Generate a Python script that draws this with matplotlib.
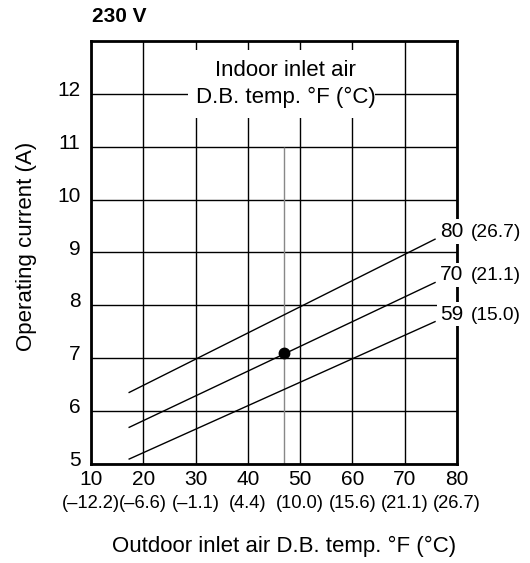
import matplotlib
matplotlib.use('Agg')
import matplotlib.pyplot as plt
from matplotlib.patches import Rectangle
from matplotlib.transforms import ScaledTranslation

plt.rcParams['font.family'] = ['Liberation Sans', 'DejaVu Sans']

# outdoor inlet air temperature ticks (°F) with the °C equivalents
outdoor_f = [10, 20, 30, 40, 50, 60, 70, 80]
outdoor_c = ['(–12.2)', '(–6.6)', '(–1.1)', '(4.4)', '(10.0)', '(15.6)', '(21.1)', '(26.7)']
current_ticks = [5, 6, 7, 8, 9, 10, 11, 12]

# indoor D.B. temp lines, start and end (outdoor °F -> current A)
line_x = [17.3, 75.8]
line_80 = [6.35, 9.25]
line_70 = [5.69, 8.43]
line_59 = [5.09, 7.69]
indoor_f = ['80', '70', '59']
indoor_c = ['(26.7)', '(21.1)', '(15.0)']

# rating point and its reference line
point_x = 47
point_y = 7.1
ref_top = 11

fig = plt.figure(figsize=(5.3, 5.63), dpi=100)
ax = fig.add_axes([91 / 530, 1 - 463.8 / 563, 366 / 530, (463.8 - 41) / 563])

ax.set_xlim(10, 80)
ax.set_ylim(5, 13)
ax.set_xticks(outdoor_f)
ax.set_yticks(current_ticks)
ax.grid(True, color='black', linewidth=1.0)
ax.tick_params(length=0, labelsize=15)
ax.tick_params(axis='x', pad=4.5)
ax.tick_params(axis='y', pad=7.5)
for s in ax.spines.values():
    s.set_linewidth(2.0)

# y labels sit a bit above their gridlines
shift = ScaledTranslation(0, 0.053, fig.dpi_scale_trans)
for lab in ax.get_yticklabels():
    lab.set_transform(lab.get_transform() + shift)

# celsius labels under the fahrenheit ones
for f, c in zip(outdoor_f, outdoor_c):
    ax.annotate(c, xy=(f, 0), xycoords=('data', 'axes fraction'),
                xytext=(0, -28.4), textcoords='offset points',
                ha='center', va='center', fontsize=13.2, annotation_clip=False)

# grey reference line and rating point
ax.vlines(point_x, 5, ref_top, color='#888888', linewidth=1.0, zorder=2)
ax.plot(point_x, point_y, 'o', color='black', markersize=7.5, zorder=5)

# the three indoor temperature lines with labels
for ys, lf, lc in zip([line_80, line_70, line_59], indoor_f, indoor_c):
    ax.plot(line_x, ys, color='black', linewidth=1.0, zorder=3)
    ax.annotate(lf, xy=(line_x[-1], ys[-1]), xytext=(3.6, 1.5), textcoords='offset points',
                ha='left', va='baseline', fontsize=15, zorder=6,
                bbox=dict(facecolor='white', edgecolor='none', pad=2))
    ax.annotate(lc, xy=(line_x[-1], ys[-1]), xytext=(25.5, 1.5), textcoords='offset points',
                ha='left', va='baseline', fontsize=13.8, zorder=6, annotation_clip=False)

# white panel behind the legend title, cutting the gridlines
ax.add_patch(Rectangle((28.55, 11.545), 64.3 - 28.55, 12.83 - 11.545,
                       facecolor='white', edgecolor='none', zorder=2.7))
ax.text(47.2, 12.19, 'Indoor inlet air\nD.B. temp. °F (°C)', ha='center', va='center',
        fontsize=16, linespacing=1.33, zorder=6)

fig.text(92 / 530, 1 - 16.7 / 563, '230 V', fontsize=15, fontweight='bold', ha='left', va='center')
fig.text(284.5 / 530, 1 - 546.7 / 563, 'Outdoor inlet air D.B. temp. °F (°C)',
         fontsize=16, ha='center', va='center')
fig.text(27 / 530, 1 - 246 / 563, 'Operating current (A)', fontsize=16,
         rotation=90, ha='center', va='center')

fig.savefig('out.png', dpi=100)
